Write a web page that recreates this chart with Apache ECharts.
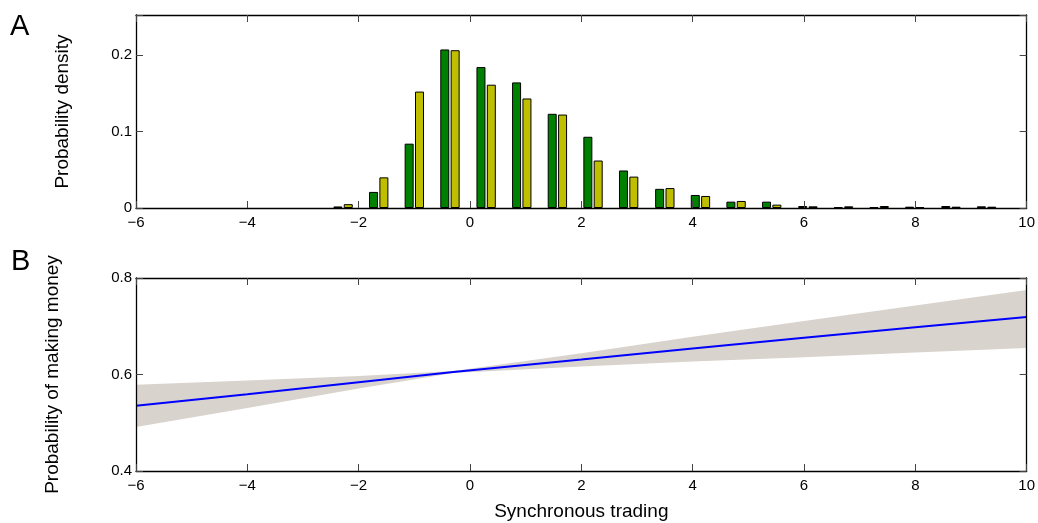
<!DOCTYPE html>
<html>
<head>
<meta charset="utf-8">
<script src="https://cdn.jsdelivr.net/npm/echarts@6/dist/echarts.min.js"></script>
<style>
html,body{margin:0;padding:0;background:#fff;}
#chart{width:1038px;height:523px;}
</style>
</head>
<body>
<div id="chart"></div>
<script>
// ---- Panel A: histogram ----
const binCenters = [-2.28, -1.64, -1.0, -0.36, 0.29, 0.93, 1.57, 2.21, 2.85, 3.5, 4.14, 4.78, 5.42, 6.07, 6.71, 7.35, 7.99, 8.64, 9.28];
const densityGreen  = [0.002, 0.021, 0.084, 0.207, 0.184, 0.164, 0.123, 0.093, 0.049, 0.025, 0.017, 0.0083, 0.0083, 0.0026, 0.0013, 0.001, 0.0017, 0.0026, 0.0022];
const densityYellow = [0.005, 0.040, 0.152, 0.206, 0.161, 0.143, 0.122, 0.062, 0.041, 0.026, 0.0157, 0.0092, 0.0044, 0.0022, 0.0022, 0.0026, 0.0013, 0.0017, 0.0017];
// ---- Panel B: fitted probability with confidence band ----
const fitX     = [-6, -4, -2, -0.3, 2, 4, 6, 8, 10];
const fitLine  = [0.535, 0.559, 0.584, 0.605, 0.631, 0.654, 0.676, 0.698, 0.719];
const fitLower = [0.491, 0.5305, 0.571, 0.603, 0.6165, 0.627, 0.636, 0.6457, 0.655];
const fitUpper = [0.579, 0.5875, 0.597, 0.607, 0.644, 0.678, 0.711, 0.743, 0.775];
// ---- Axis ticks ----
const xTicks = {min: -6, max: 10, interval: 2};
const yTicksA = {min: 0, max: 0.252, interval: 0.1};
const yTicksB = {min: 0.4, max: 0.8, interval: 0.2};

const FONT = "'Liberation Sans', Arial, Helvetica, sans-serif";
const minus = v => String(v).replace('-', '\u2212');
const boxLine = {show: true, onZero: false, lineStyle: {color: '#000', width: 1.3}};
const tick = {show: true, inside: true, length: 7, lineStyle: {color: '#444', width: 1}};

function xAx(grid, withName) {
  const base = {
    type: 'value', gridIndex: grid, min: xTicks.min, max: xTicks.max, interval: xTicks.interval,
    axisLine: boxLine, axisTick: tick, splitLine: {show: false}, z: 10
  };
  return [
    Object.assign({}, base, {
      position: 'bottom',
      axisLabel: {show: true, color: '#000', fontFamily: FONT, fontSize: 15, margin: 7, formatter: minus},
      name: withName ? 'Synchronous trading' : '',
      nameLocation: 'middle', nameGap: 31,
      nameTextStyle: {color: '#000', fontFamily: FONT, fontSize: 19}
    }),
    Object.assign({}, base, {position: 'top', axisLabel: {show: false}})
  ];
}
function yAx(grid, t, name, gap) {
  const fmt = v => {
    if (Math.abs(v * 10 - Math.round(v * 10)) > 1e-6) return '';
    return v === 0 ? '0' : (+v).toFixed(1);
  };
  const base = {
    type: 'value', gridIndex: grid, min: t.min, max: t.max, interval: t.interval,
    axisLine: boxLine, axisTick: tick, splitLine: {show: false}, z: 10
  };
  return [
    Object.assign({}, base, {
      position: 'left',
      axisLabel: {show: true, color: '#000', fontFamily: FONT, fontSize: 15, margin: 4, formatter: fmt},
      name: name, nameLocation: 'middle', nameGap: gap, nameRotate: 90,
      nameTextStyle: {color: '#000', fontFamily: FONT, fontSize: 19}
    }),
    Object.assign({}, base, {position: 'right', axisLabel: {show: false}})
  ];
}

function renderBand(params, api) {
  const pts = [];
  for (let i = 0; i < fitX.length; i++) pts.push(api.coord([fitX[i], fitUpper[i]]));
  for (let i = fitX.length - 1; i >= 0; i--) pts.push(api.coord([fitX[i], fitLower[i]]));
  return {type: 'polygon', shape: {points: pts}, style: {fill: '#d9d3cd'}, silent: true};
}

const chart = echarts.init(document.getElementById('chart'), null, {renderer: 'canvas'});
const option = {
  animation: false,
  backgroundColor: '#fff',
  grid: [
    {left: 136, top: 15, width: 891, height: 193, containLabel: false},
    {left: 136, top: 278, width: 891, height: 193, containLabel: false}
  ],
  xAxis: [].concat(xAx(0, false), xAx(1, true)),
  yAxis: [].concat(
    yAx(0, yTicksA, 'Probability density', 64),
    yAx(1, yTicksB, 'Probability of making money', 74)
  ),
  graphic: [
    {type: 'text', left: 10, top: 12, style: {text: 'A', font: '29px ' + FONT, fill: '#000'}},
    {type: 'text', left: 11, top: 247, style: {text: 'B', font: '29px ' + FONT, fill: '#000'}}
  ],
  series: [
    {
      type: 'bar', name: 'green', xAxisIndex: 0, yAxisIndex: 0,
      data: binCenters.map((x, i) => [x, densityGreen[i]]),
      barWidth: 9, barGap: '15%',
      itemStyle: {color: '#008000', borderColor: '#000', borderWidth: 1}
    },
    {
      type: 'bar', name: 'yellow', xAxisIndex: 0, yAxisIndex: 0,
      data: binCenters.map((x, i) => [x, densityYellow[i]]),
      barWidth: 9, barGap: '15%',
      itemStyle: {color: '#bfbf00', borderColor: '#000', borderWidth: 1}
    },
    {
      type: 'custom', name: 'band', xAxisIndex: 2, yAxisIndex: 2,
      data: [[fitX[0], fitLower[0]]],
      renderItem: renderBand, silent: true, z: 1
    },
    {
      type: 'line', name: 'fit', xAxisIndex: 2, yAxisIndex: 2,
      data: fitX.map((x, i) => [x, fitLine[i]]),
      symbol: 'none', lineStyle: {color: '#0000ff', width: 2}, z: 3
    }
  ]
};
chart.setOption(option);
</script>
</body>
</html>
